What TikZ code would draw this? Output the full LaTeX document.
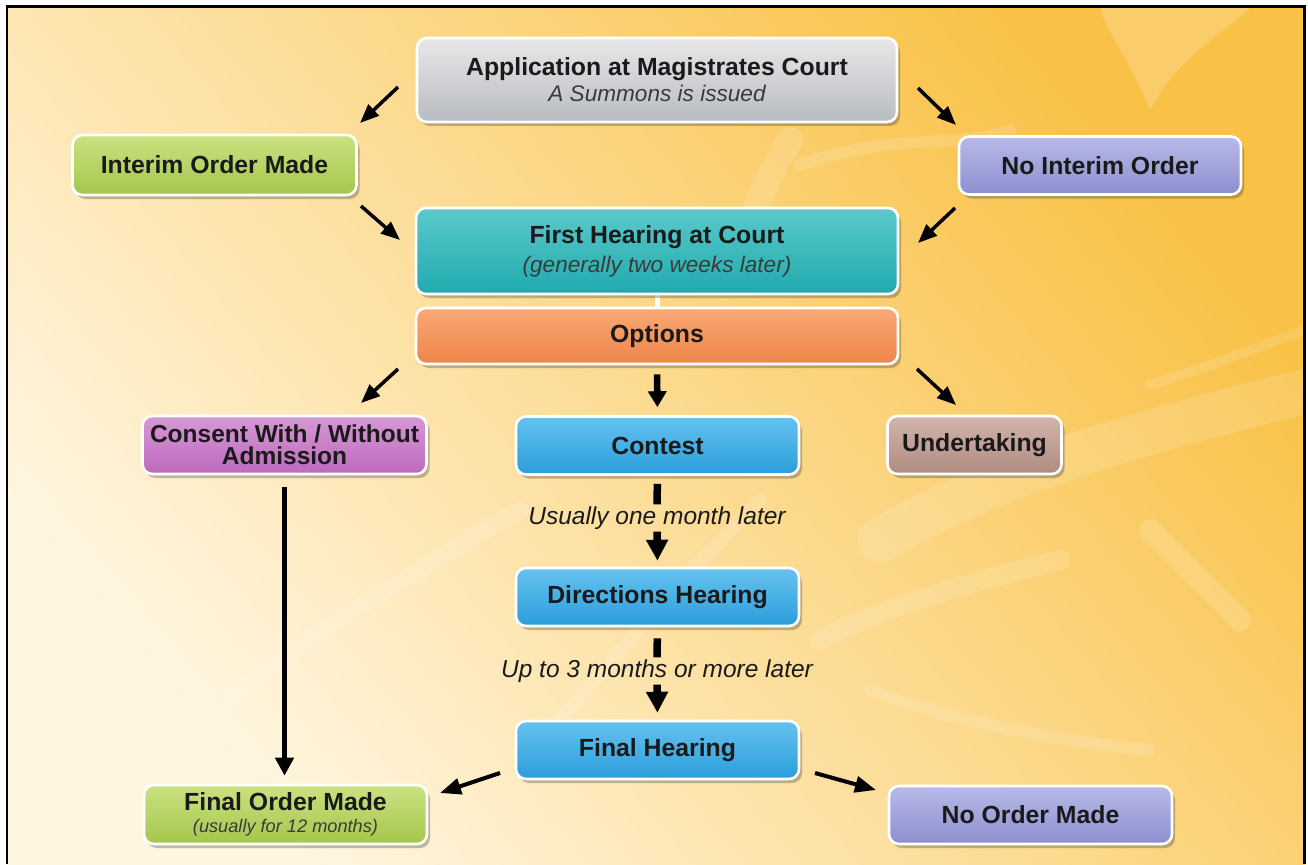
\documentclass[tikz,border=0pt]{standalone}
\usepackage{fontspec}
\setmainfont{Liberation Sans}
\usetikzlibrary{arrows.meta,shadows,calc}
\definecolor{bgTR}{HTML}{F9C145}
\definecolor{bgM}{HTML}{FDD68C}
\definecolor{bgBL}{HTML}{FFF6E2}
\definecolor{txt}{HTML}{1A1A1A}
\definecolor{subtxt}{HTML}{3A3A3A}
\definecolor{grayT}{HTML}{E8E8EA}\definecolor{grayB}{HTML}{B8BBC0}
\definecolor{greenT}{HTML}{CBE282}\definecolor{greenB}{HTML}{A4C64C}
\definecolor{lavT}{HTML}{B8BAE8}\definecolor{lavB}{HTML}{8C8FCF}
\definecolor{tealT}{HTML}{5CC9CB}\definecolor{tealB}{HTML}{1FAAAE}
\definecolor{orT}{HTML}{F9A976}\definecolor{orB}{HTML}{EE8549}
\definecolor{pinkT}{HTML}{D698D5}\definecolor{pinkB}{HTML}{BD6ABD}
\definecolor{blueT}{HTML}{66C2EF}\definecolor{blueB}{HTML}{2A9DDB}
\definecolor{taupeT}{HTML}{D2B4AB}\definecolor{taupeB}{HTML}{B08C82}
\newcommand{\titlef}{\bfseries\fontsize{24.8}{26}\selectfont}
\newcommand{\subf}{\mdseries\itshape\fontsize{22.6}{24}\selectfont\color{subtxt}}
\newcommand{\smallsubf}{\mdseries\itshape\fontsize{18.2}{20}\selectfont\color{subtxt}}
\tikzset{
  box/.style={draw=white, line width=2.6pt, rounded corners=10pt, align=center,
    inner sep=0pt, text=txt, font=\titlef,
    drop shadow={shadow xshift=3pt, shadow yshift=-4pt, opacity=0.33, fill=black!75}},
  cgray/.style={top color=grayT, bottom color=grayB},
  cgreen/.style={top color=greenT, bottom color=greenB},
  clav/.style={top color=lavT, bottom color=lavB},
  cteal/.style={top color=tealT, bottom color=tealB},
  corange/.style={top color=orT, bottom color=orB},
  cpink/.style={top color=pinkT, bottom color=pinkB},
  cblue/.style={top color=blueT, bottom color=blueB},
  ctaupe/.style={top color=taupeT, bottom color=taupeB},
  arr/.style={line width=3.5pt, -{Triangle[length=19pt,width=15pt]}},
  bigarr/.style={line width=7.5pt, -{Triangle[length=21pt,width=21pt]}},
  stub/.style={line width=7.5pt},
  lab/.style={font=\itshape\fontsize{24.5}{26}\selectfont, text=txt, inner sep=2pt},
  brush/.style={white, opacity=0.14, line cap=round},
}
\begin{document}
\begin{tikzpicture}[x=1pt,y=-1pt]
\useasboundingbox (0,0) rectangle (1308,864);
\fill[white] (0,0) rectangle (1308,864);
% background
\shade[shading=axis, top color=bgTR, middle color=bgM, bottom color=bgBL, shading angle=-50] (7,6) rectangle (1305,864);
\begin{scope}
\clip (7,6) rectangle (1305,864);
\fill[brush, opacity=0.2] (1100,8) -- (1250,8) .. controls (1215,40) and (1180,55) .. (1150,110) .. controls (1130,60) and (1110,40) .. (1100,8) -- cycle;
\draw[brush, line width=26pt] (790,140) .. controls (760,190) and (745,230) .. (735,280);
\draw[brush, line width=12pt] (800,165) .. controls (900,130) and (960,150) .. (1010,130);
\draw[brush, line width=10pt] (1150,385) .. controls (1200,370) and (1250,350) .. (1305,330);
\draw[brush, line width=45pt] (880,540) .. controls (1000,470) and (1150,430) .. (1310,390);
\draw[brush, line width=22pt] (1150,530) .. controls (1180,560) and (1210,590) .. (1240,620);
\draw[brush, line width=20pt] (820,640) .. controls (900,600) and (980,580) .. (1060,560);
\draw[brush, line width=18pt] (230,700) .. controls (300,640) and (400,580) .. (520,510);
\draw[brush, line width=14pt] (560,720) .. controls (620,650) and (700,560) .. (760,500);
\draw[brush, line width=12pt] (870,690) .. controls (950,720) and (1050,740) .. (1150,750);
\end{scope}
% frame
\draw[black, line width=2.5pt] (7,864) -- (7,6.5) -- (1304.5,6.5) -- (1304.5,864);
% connector between First hearing and Options
\draw[white, line width=5pt] (657,294) -- (657,309);
% nodes
\node[box, cgray, minimum width=480pt, minimum height=84pt] (app) at (657,80)
  {Application at Magistrates Court\\{\subf A Summons is issued}};
\node[box, cgreen, minimum width=284pt, minimum height=60pt] (interim) at (214.5,165) {Interim Order Made};
\node[box, clav, minimum width=282pt, minimum height=58pt] (nointerim) at (1100,165.5) {No Interim Order};
\node[box, cteal, minimum width=482pt, minimum height=86pt] (first) at (657,251)
  {First Hearing at Court\\[3pt]{\subf (generally two weeks later)}};
\node[box, corange, minimum width=482pt, minimum height=56pt] (opt) at (657,336) {Options};
\node[box, cpink, minimum width=284pt, minimum height=58pt, font=\bfseries\fontsize{24.5}{22}\selectfont] (consent) at (284.5,445) {Consent With / Without\\Admission};
\node[box, cblue, minimum width=283pt, minimum height=58pt] (contest) at (657.5,445.5) {Contest};
\node[box, ctaupe, minimum width=174pt, minimum height=58pt] (under) at (974.5,445) {Undertaking};
\node[box, cblue, minimum width=283pt, minimum height=58pt] (dir) at (657.5,597) {Directions Hearing};
\node[box, cblue, minimum width=283pt, minimum height=58pt] (fh) at (657.5,750) {Final Hearing};
\node[box, cgreen, minimum width=283pt, minimum height=59pt] (fo) at (285.5,814.5)
  {Final Order Made\\[-4pt]{\smallsubf (usually for 12 months)}};
\node[box, clav, minimum width=283pt, minimum height=58pt] (noorder) at (1030.5,815) {No Order Made};
% labels
\node[lab] (l1) at (657,518) {Usually one month later};
\node[lab] (l2) at (657,671) {Up to 3 months or more later};
% arrow end points
\coordinate (a1s) at (398,87);  \coordinate (a1e) at (360,123);
\coordinate (a2s) at (918,88);  \coordinate (a2e) at (956,125);
\coordinate (a3s) at (361,206); \coordinate (a3e) at (400,240);
\coordinate (a4s) at (955,208); \coordinate (a4e) at (918,243);
\coordinate (a5s) at (398,369); \coordinate (a5e) at (361,403);
\coordinate (a7s) at (917,369); \coordinate (a7e) at (956,405);
\coordinate (a8s) at (500,773); \coordinate (a8e) at (440,793);
\coordinate (a9s) at (815,773); \coordinate (a9e) at (876,790);
% arrows
\draw[arr] (a1s) -- (a1e);
\draw[arr] (a2s) -- (a2e);
\draw[arr] (a3s) -- (a3e);
\draw[arr] (a4s) -- (a4e);
\draw[arr] (a5s) -- (a5e);
\draw[arr] (a7s) -- (a7e);
\draw[arr, line width=4pt, -{Triangle[length=21pt,width=16pt]}] (a8s) -- (a8e);
\draw[arr, line width=4pt, -{Triangle[length=21pt,width=16pt]}] (a9s) -- (a9e);
\draw[line width=6.5pt, -{Triangle[length=16pt,width=18pt]}, shorten <=9pt, shorten >=8pt] (opt.south) -- (contest.north);
\draw[line width=4.5pt, -{Triangle[length=18pt,width=18pt]}, shorten <=12pt, shorten >=8pt] (consent.south) -- (consent.south |- fo.north);
\draw[stub, shorten <=8pt] (contest.south) -- (l1.north);
\draw[bigarr, shorten >=6pt] (l1.south) -- (dir.north);
\draw[stub, shorten <=11pt] (dir.south) -- (l2.north);
\draw[bigarr, shorten >=7pt] (l2.south) -- (fh.north);
\end{tikzpicture}
\end{document}
